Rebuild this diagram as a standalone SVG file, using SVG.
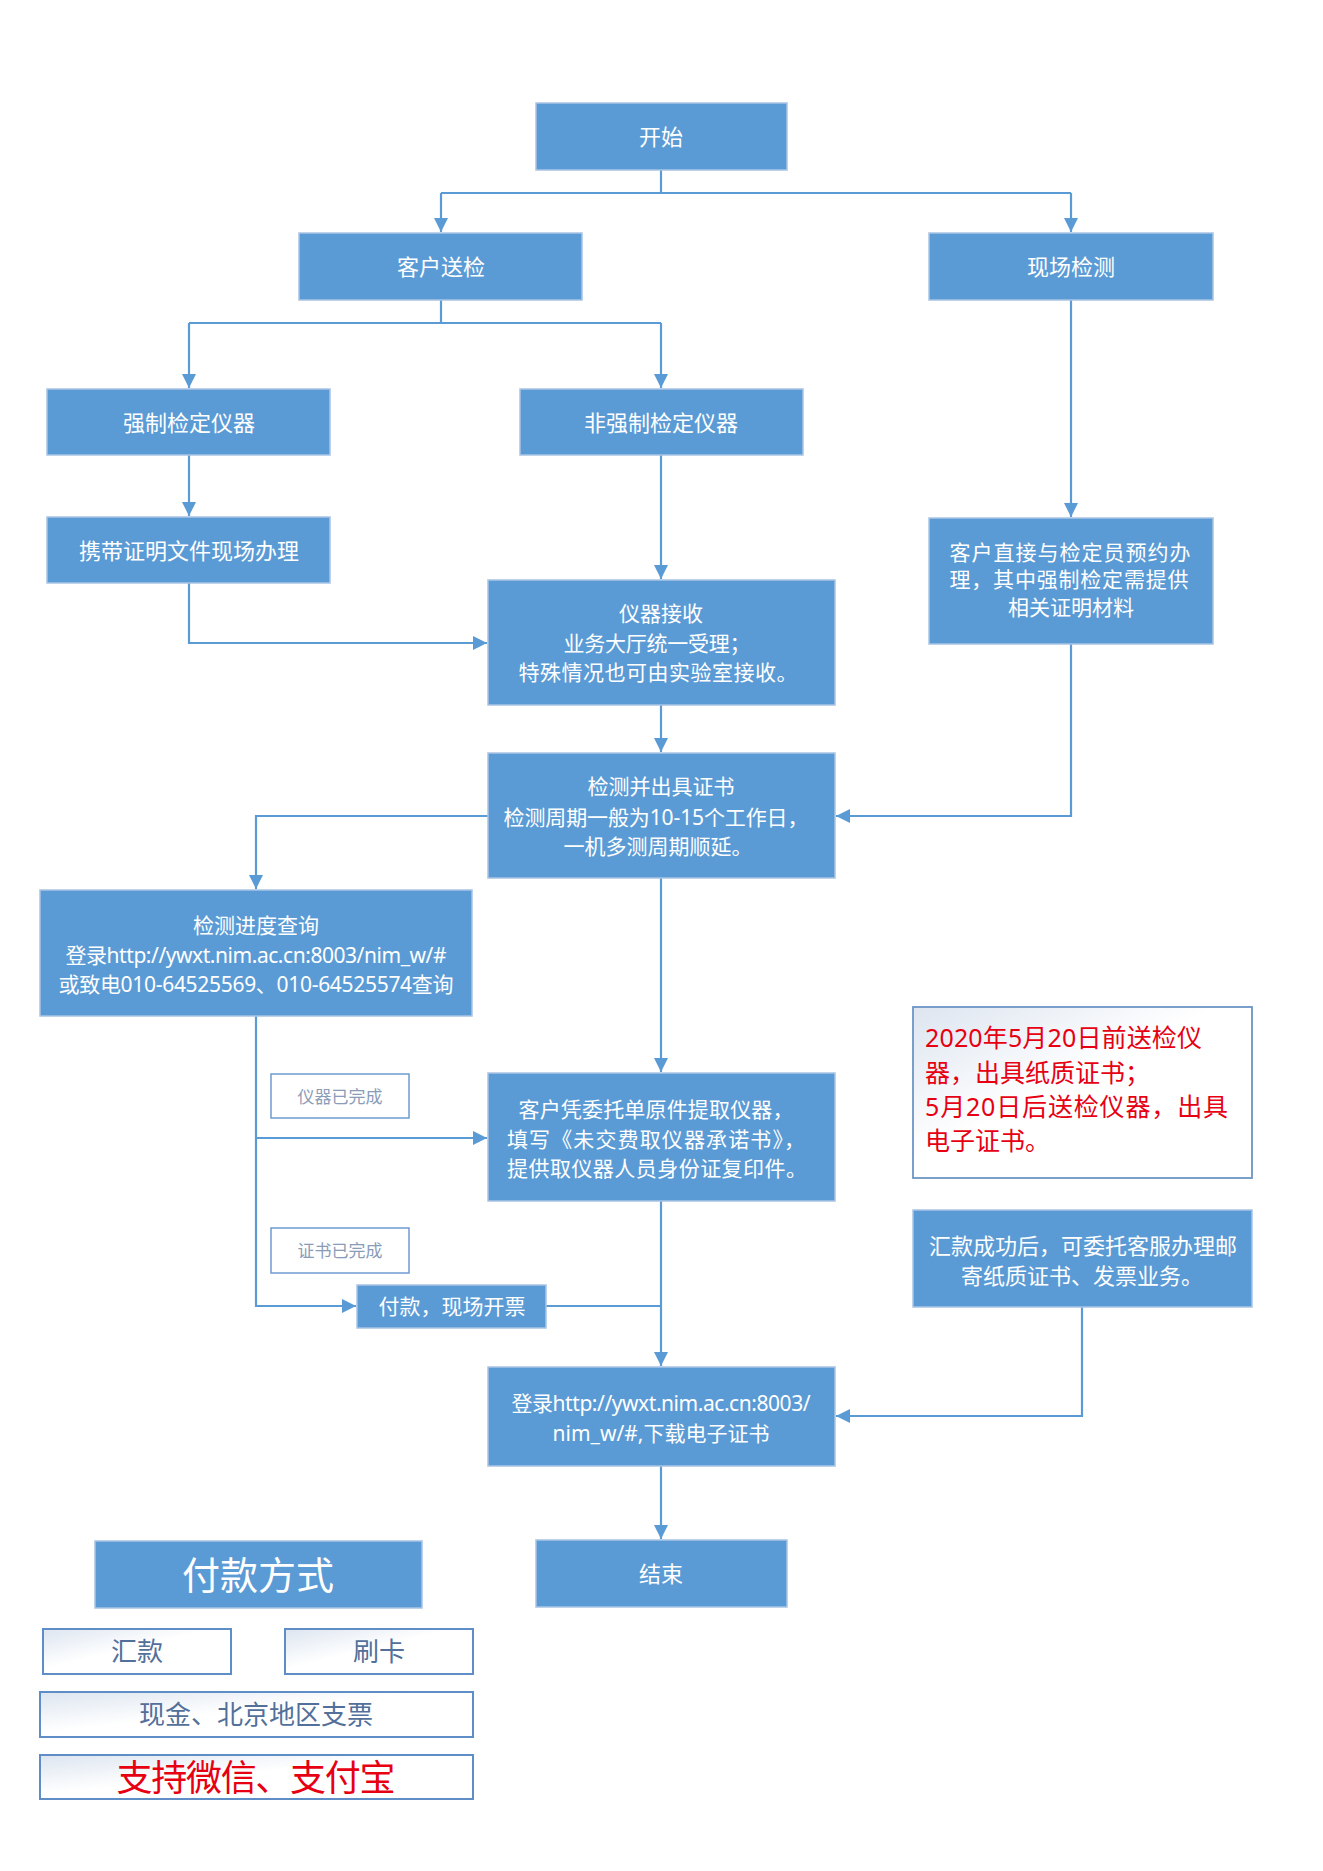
<svg xmlns="http://www.w3.org/2000/svg" width="1323" height="1871" viewBox="0 0 1323 1871">
<style>
.box{fill:#5b9bd5;stroke:#a9c4e4;stroke-width:1.5}
.lbl{fill:#ffffff;stroke:#6f9bd0;stroke-width:1.5}
.pay{fill:url(#gr);stroke:#5f8ec7;stroke-width:2}
.note{fill:url(#gr);stroke:#6d95c6;stroke-width:1.8}
.t{font-family:"Noto Sans","Noto Sans CJK SC",sans-serif;fill:#ffffff;font-size:21px;text-anchor:middle;dominant-baseline:central}
.t22{font-size:22px}
.g{font-family:"Noto Sans","Noto Sans CJK SC",sans-serif;fill:#8a9cb8;font-size:17px;text-anchor:middle;dominant-baseline:central}
.p{font-family:"Noto Sans","Noto Sans CJK SC",sans-serif;fill:#52709a;font-size:26px;text-anchor:middle;dominant-baseline:central}
.r{font-family:"Noto Sans","Noto Sans CJK SC",sans-serif;fill:#e60012;font-size:25px;dominant-baseline:central}
.c{fill:none;stroke:#5b9bd5;stroke-width:2.2}
</style>
<defs>
<linearGradient id="gr" x1="0" y1="0" x2="1" y2="1">
<stop offset="0" stop-color="#dde5f0"/>
<stop offset="0.45" stop-color="#ffffff"/>
<stop offset="1" stop-color="#ffffff"/>
</linearGradient>
<marker id="ah" viewBox="0 0 14 14" refX="14" refY="7" markerWidth="14" markerHeight="14" markerUnits="userSpaceOnUse" orient="auto">
<path d="M0,0 L14,7 L0,14 Z" fill="#5b9bd5"/>
</marker>
</defs>
<rect width="1323" height="1871" fill="#ffffff"/>

<g id="connectors">
<path class="c" d="M661,170 V193 M441,193 H1071"/>
<path class="c" d="M441,193 V232" marker-end="url(#ah)"/>
<path class="c" d="M1071,193 V232" marker-end="url(#ah)"/>
<path class="c" d="M441,300 V323 M189,323 H661"/>
<path class="c" d="M189,323 V388" marker-end="url(#ah)"/>
<path class="c" d="M661,323 V388" marker-end="url(#ah)"/>
<path class="c" d="M189,455 V516" marker-end="url(#ah)"/>
<path class="c" d="M189,583 V643 H487" marker-end="url(#ah)"/>
<path class="c" d="M661,455 V579" marker-end="url(#ah)"/>
<path class="c" d="M1071,300 V517" marker-end="url(#ah)"/>
<path class="c" d="M661,705 V752" marker-end="url(#ah)"/>
<path class="c" d="M1071,644 V816 H836" marker-end="url(#ah)"/>
<path class="c" d="M488,816 H256 V889" marker-end="url(#ah)"/>
<path class="c" d="M661,878 V1072" marker-end="url(#ah)"/>
<path class="c" d="M256,1016 V1306 H356" marker-end="url(#ah)"/>
<path class="c" d="M256,1138 H487" marker-end="url(#ah)"/>
<path class="c" d="M661,1201 V1366" marker-end="url(#ah)"/>
<path class="c" d="M546,1306 H661"/>
<path class="c" d="M1082,1307 V1416 H836" marker-end="url(#ah)"/>
<path class="c" d="M661,1466 V1539" marker-end="url(#ah)"/>
</g>

<g id="n-start"><rect class="box" x="536" y="103" width="251" height="67"/><text class="t t22" x="661" y="136">开始</text></g>
<g id="n-client"><rect class="box" x="299" y="233" width="283" height="67"/><text class="t t22" x="441" y="266">客户送检</text></g>
<g id="n-onsite"><rect class="box" x="929" y="233" width="284" height="67"/><text class="t t22" x="1071" y="266">现场检测</text></g>
<g id="n-mand"><rect class="box" x="47" y="389" width="283" height="66"/><text class="t t22" x="189" y="422">强制检定仪器</text></g>
<g id="n-nonmand"><rect class="box" x="520" y="389" width="283" height="66"/><text class="t t22" x="661" y="422">非强制检定仪器</text></g>
<g id="n-carry"><rect class="box" x="47" y="517" width="283" height="66"/><text class="t t22" x="189" y="550">携带证明文件现场办理</text></g>
<g id="n-receive"><rect class="box" x="488" y="580" width="347" height="125"/>
<text class="t" x="661" y="613">仪器接收</text>
<text class="t" x="657" y="643" textLength="187" lengthAdjust="spacing">业务大厅统一受理；</text>
<text class="t" x="658" y="672" textLength="279" lengthAdjust="spacing">特殊情况也可由实验室接收。</text></g>
<g id="n-direct"><rect class="box" x="929" y="518" width="284" height="126"/>
<text class="t" x="1070" y="552" textLength="241" lengthAdjust="spacing">客户直接与检定员预约办</text>
<text class="t" x="1069" y="579" textLength="239" lengthAdjust="spacing">理，其中强制检定需提供</text>
<text class="t" x="1071" y="607">相关证明材料</text></g>
<g id="n-test"><rect class="box" x="488" y="753" width="347" height="125"/>
<text class="t" x="661" y="786">检测并出具证书</text>
<text class="t" x="656" y="817" textLength="305" lengthAdjust="spacing">检测周期一般为10-15个工作日，</text>
<text class="t" x="658" y="846">一机多测周期顺延。</text></g>
<g id="n-query"><rect class="box" x="40" y="890" width="432" height="126"/>
<text class="t" x="256" y="925">检测进度查询</text>
<text class="t" x="256" y="955" textLength="381" lengthAdjust="spacing">登录http://ywxt.nim.ac.cn:8003/nim_w/#</text>
<text class="t" x="256" y="984" textLength="395" lengthAdjust="spacing">或致电010-64525569、010-64525574查询</text></g>
<g id="l-done1"><rect class="lbl" x="271" y="1074" width="138" height="44"/><text class="g" x="340" y="1096">仪器已完成</text></g>
<g id="n-pickup"><rect class="box" x="488" y="1073" width="347" height="128"/>
<text class="t" x="656" y="1109" textLength="275" lengthAdjust="spacing">客户凭委托单原件提取仪器，</text>
<text class="t" x="656" y="1139" textLength="298" lengthAdjust="spacing">填写《未交费取仪器承诺书》，</text>
<text class="t" x="657" y="1168" textLength="300" lengthAdjust="spacing">提供取仪器人员身份证复印件。</text></g>
<g id="l-done2"><rect class="lbl" x="271" y="1228" width="138" height="45"/><text class="g" x="340" y="1250">证书已完成</text></g>
<g id="n-paynow"><rect class="box" x="357" y="1285" width="189" height="43"/><text class="t" x="452" y="1306">付款，现场开票</text></g>
<g id="n-note"><rect class="note" x="913" y="1007" width="339" height="171"/>
<text class="r" x="925" y="1037" textLength="277" lengthAdjust="spacing">2020年5月20日前送检仪</text>
<text class="r" x="925" y="1072">器，出具纸质证书；</text>
<text class="r" x="925" y="1106" textLength="303" lengthAdjust="spacing">5月20日后送检仪器，出具</text>
<text class="r" x="925" y="1140">电子证书。</text></g>
<g id="n-mail"><rect class="box" x="913" y="1210" width="339" height="97"/>
<text class="t t22" x="1083" y="1245">汇款成功后，可委托客服办理邮</text>
<text class="t t22" x="1082" y="1275">寄纸质证书、发票业务。</text></g>
<g id="n-download"><rect class="box" x="488" y="1367" width="347" height="99"/>
<text class="t" x="661" y="1403" textLength="299" lengthAdjust="spacing">登录http://ywxt.nim.ac.cn:8003/</text>
<text class="t" x="661" y="1433">nim_w/#,下载电子证书</text></g>
<g id="n-end"><rect class="box" x="536" y="1540" width="251" height="67"/><text class="t t22" x="661" y="1573">结束</text></g>

<g id="pay-title"><rect class="box" x="95" y="1541" width="327" height="67"/><text class="t" x="258" y="1574" style="font-size:38px">付款方式</text></g>
<g id="pay-remit"><rect class="pay" x="43" y="1629" width="188" height="45"/><text class="p" x="137" y="1651">汇款</text></g>
<g id="pay-card"><rect class="pay" x="285" y="1629" width="188" height="45"/><text class="p" x="379" y="1651">刷卡</text></g>
<g id="pay-cash"><rect class="pay" x="40" y="1692" width="433" height="45"/><text class="p" x="256" y="1714">现金、北京地区支票</text></g>
<g id="pay-mobile"><rect class="pay" x="40" y="1755" width="433" height="44"/><text class="p" x="256" y="1777" style="font-size:36px;fill:#e60012" textLength="279" lengthAdjust="spacing">支持微信、支付宝</text></g>
</svg>
